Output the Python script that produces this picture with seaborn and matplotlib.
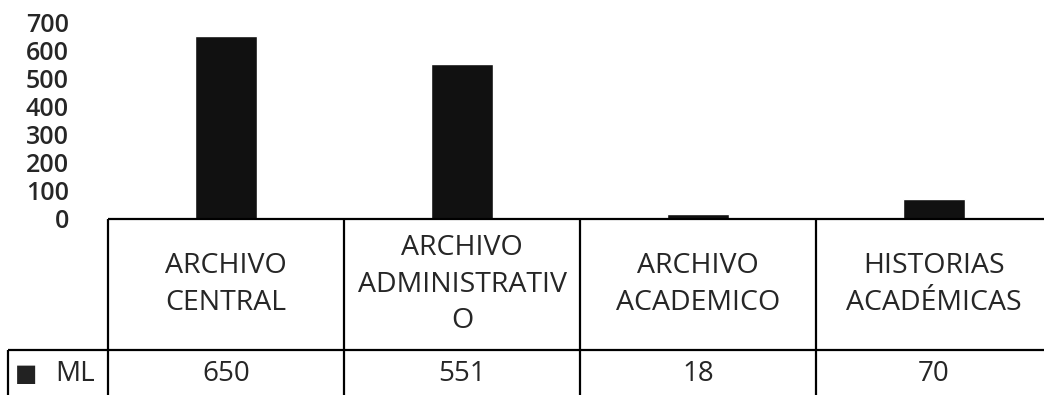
import numpy as np
import pandas as pd
import matplotlib
matplotlib.use("Agg")
import matplotlib.pyplot as plt
import matplotlib.transforms as mtransforms
import seaborn as sns

# ── Datos ───────────────────────────────────────────
categorias = ["ARCHIVO\nCENTRAL", "ARCHIVO\nADMINISTRATIV\nO",
              "ARCHIVO\nACADEMICO", "HISTORIAS\nACADÉMICAS"]
valores = [650, 551, 18, 70]
serie = "ML"
yticks = [0, 100, 200, 300, 400, 500, 600, 700]

df = pd.DataFrame({"cat": categorias, "val": valores})

sns.set_style("white")
plt.rcParams["font.family"] = ["Open Sans", "DejaVu Sans"]

fig = plt.figure(figsize=(10.44, 3.95), dpi=100)
W, H = 1044, 395
ax = fig.add_axes([108 / W, (H - 219) / H, (1052 - 108) / W, 197 / H])

sns.barplot(data=df, x="cat", y="val", color="#111111", width=0.26,
            saturation=1, ax=ax)
ax.set_ylim(0, 700)
ax.set_xlim(-0.5, 3.5)
ax.set_yticks(yticks)
ax.set_yticklabels([str(t) for t in yticks], fontsize=18, fontweight="semibold")
ax.tick_params(axis="y", length=0, pad=28)
ax.set_xticks([])
ax.set_xlabel("")
ax.set_ylabel("")
for s in ax.spines.values():
    s.set_visible(False)

# ── Tabla de datos ────────────────────────────────────
tr = mtransforms.blended_transform_factory(ax.transData, ax.transAxes)
lw = 1.6
kw = dict(color="black", lw=lw, transform=tr, clip_on=False, solid_capstyle="butt")
y_top, y_mid, y_bot = 0.0, (219 - 350) / 197, (219 - 400) / 197
x_left = -0.5 - 100 / 236

ax.plot([-0.5, 3.6], [y_top, y_top], **kw)
ax.plot([x_left, 3.6], [y_mid, y_mid], **kw)
ax.plot([x_left, x_left], [y_mid, y_bot], **kw)
for b in [-0.5, 0.5, 1.5, 2.5]:
    ax.plot([b, b], [y_top, y_bot], **kw)

y_row = (y_mid + (219 - 398) / 197) / 2
for i, (c, v) in enumerate(zip(categorias, valores)):
    ax.text(i, (y_top + y_mid) / 2, c, transform=tr, ha="center", va="center",
            fontsize=20.5, linespacing=1.42)
    ax.text(i, y_row, str(v), transform=tr, ha="center", va="center",
            fontsize=20)

ax.text(x_left + 0.075, y_row, "■", transform=tr, ha="center", va="center",
        fontsize=17, color="#222222", family=["DejaVu Sans"])
ax.text(x_left + 0.2, y_row, serie, transform=tr, ha="left", va="center",
        fontsize=20)

fig.savefig("out.png", dpi=100)
